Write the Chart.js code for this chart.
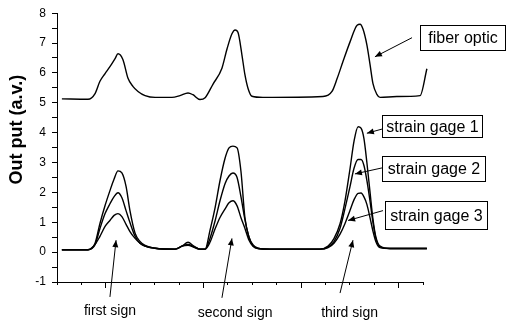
<!DOCTYPE html>
<html><head><meta charset="utf-8">
<style>html,body{margin:0;padding:0;background:#fff;}#wrap{width:508px;height:324px;}</style>
<script src="https://cdn.jsdelivr.net/npm/chart.js@4.4.1/dist/chart.umd.min.js"></script>
</head><body><div id="wrap"><canvas id="c" width="508" height="324"></canvas></div>
<script>
// ---- data ----
const fiberX = [0.2,1.27,1.56,1.76,1.97,2.17,2.38,2.5,2.7,2.91,3.11,3.32,3.61,4.02,4.71,5.04,5.37,5.57,5.86,6.07,6.39,6.76,6.97,7.17,7.3,7.42,7.58,7.7,7.83,7.99,8.44,10.9,11.27,11.48,11.72,12.01,12.3,12.42,12.54,12.7,12.83,12.95,13.11,13.24,13.93,14.88,15.16];
const fiberOptic = [5.13,5.12,5.31,5.72,5.98,6.21,6.48,6.64,6.45,5.82,5.55,5.38,5.24,5.18,5.18,5.24,5.33,5.27,5.11,5.17,5.62,6.16,6.81,7.31,7.44,7.35,6.6,5.95,5.48,5.22,5.18,5.21,5.38,5.81,6.38,7.04,7.6,7.63,7.47,6.94,6.28,5.64,5.28,5.18,5.21,5.24,6.14];

const gageX = [0.2,1.27,1.56,1.76,1.97,2.17,2.34,2.5,2.66,2.83,2.99,3.2,3.4,3.61,4.02,4.84,5.12,5.37,5.61,5.86,6.07,6.27,6.48,6.68,6.89,7.05,7.21,7.38,7.54,7.7,7.87,8.03,8.24,8.73,10.78,11.11,11.35,11.6,11.8,12.01,12.17,12.34,12.46,12.58,12.7,12.83,12.95,13.07,13.24,13.65,15.16];
const strainGage1 = [0.08,0.08,0.3,0.96,1.56,2.06,2.45,2.72,2.65,2.2,1.39,0.63,0.36,0.23,0.13,0.1,0.2,0.33,0.2,0.1,0.1,0.73,1.49,2.39,3.15,3.49,3.55,3.49,2.7,1.16,0.5,0.25,0.13,0.1,0.1,0.2,0.45,0.95,1.7,2.8,3.7,4.2,4.15,3.8,3.0,2.0,1.1,0.5,0.2,0.12,0.12];
const strainGage2 = [0.08,0.08,0.25,0.79,1.29,1.62,1.86,1.99,1.82,1.39,0.99,0.53,0.3,0.2,0.13,0.1,0.2,0.26,0.18,0.1,0.1,0.46,1.05,1.72,2.3,2.55,2.65,2.5,1.85,1.1,0.5,0.22,0.12,0.1,0.1,0.17,0.35,0.8,1.45,2.2,2.8,3.1,3.1,2.9,2.4,1.7,1.0,0.45,0.18,0.12,0.12];
const strainGage3 = [0.08,0.08,0.26,0.53,0.86,1.06,1.23,1.29,1.19,0.93,0.69,0.46,0.3,0.2,0.13,0.1,0.2,0.23,0.16,0.1,0.1,0.33,0.78,1.16,1.45,1.65,1.72,1.55,1.15,0.8,0.4,0.2,0.12,0.1,0.1,0.15,0.3,0.6,0.95,1.4,1.75,1.97,1.98,1.85,1.6,1.15,0.7,0.35,0.15,0.12,0.12];

const yTickValues = [-1,0,1,2,3,4,5,6,7,8];
const xMinorTicks = [0,1,2,3,4,5,6,7,8,9,10,11,12,13,14,15];
const xMajorTicks = [2,6,10,14];
const yTitle = 'Out put (a.v.)';
const seriesNames = ['fiber optic','strain gage 1','strain gage 2','strain gage 3'];
const signNames = ['first sign','second sign','third sign'];

// ---- annotation layout (data coordinates) ----
const boxSpots = [
  {x0:14.88,x1:18.36,y0:7.60,y1:6.78},
  {x0:13.32,x1:17.42,y0:4.58,y1:3.85},
  {x0:13.32,x1:17.54,y0:3.22,y1:2.39},
  {x0:13.44,x1:17.62,y0:1.72,y1:0.79}
];
const boxArrows = [
  [14.55,7.18,13.03,6.54],
  [13.32,4.12,12.70,3.98],
  [13.32,2.82,12.21,2.62],
  [13.36,1.39,11.93,1.06]
];
const signArrows = [
  [2.17,-1.5,2.42,0.4],
  [6.76,-1.53,7.17,0.46],
  [11.6,-1.37,12.13,0.4]
];
const signSpots = [[2.17,-1.96],[7.30,-2.03],[11.99,-2.03]];

const pts = (xs, ys) => xs.map((x,i)=>({x:x, y:ys[i]}));

function arrow(ctx,x1,y1,x2,y2){
  ctx.beginPath(); ctx.moveTo(x1,y1); ctx.lineTo(x2,y2); ctx.stroke();
  const a = Math.atan2(y2-y1,x2-x1), L=7, W=3;
  ctx.beginPath();
  ctx.moveTo(x2,y2);
  ctx.lineTo(x2-L*Math.cos(a)+W*Math.sin(a), y2-L*Math.sin(a)-W*Math.cos(a));
  ctx.lineTo(x2-L*Math.cos(a)-W*Math.sin(a), y2-L*Math.sin(a)+W*Math.cos(a));
  ctx.closePath(); ctx.fill();
}

const annotPlugin = {
  id:'annot',
  afterDraw(chart){
    const ctx = chart.ctx, sx = chart.scales.x, sy = chart.scales.y;
    const px = v => sx.getPixelForValue(v), py = v => sy.getPixelForValue(v);
    ctx.save();
    ctx.strokeStyle = '#000'; ctx.fillStyle = '#000'; ctx.lineWidth = 1;
    boxSpots.forEach((b,i)=>{
      const x0=Math.round(px(b.x0))+0.5, x1=Math.round(px(b.x1))+0.5, y0=Math.round(py(b.y0))+0.5, y1=Math.round(py(b.y1))+0.5;
      ctx.fillStyle='#fff'; ctx.fillRect(x0,y0,x1-x0,y1-y0);
      ctx.strokeRect(x0,y0,x1-x0,y1-y0);
      ctx.fillStyle='#000';
      ctx.font = '16px "Liberation Sans", Arial, sans-serif';
      ctx.textAlign='center'; ctx.textBaseline='middle';
      ctx.fillText(seriesNames[i], (x0+x1)/2, (y0+y1)/2+1);
    });
    boxArrows.forEach(a=>arrow(ctx,px(a[0]),py(a[1]),px(a[2]),py(a[3])));
    signArrows.forEach(a=>arrow(ctx,px(a[0]),py(a[1]),px(a[2]),py(a[3])));
    ctx.font = '14px "Liberation Sans", Arial, sans-serif';
    ctx.textAlign='center'; ctx.textBaseline='middle';
    signSpots.forEach((s,i)=>ctx.fillText(signNames[i], px(s[0]), py(s[1])));
    ctx.translate(17, py(4.1));
    ctx.rotate(-Math.PI/2);
    ctx.font = 'bold 18px "Liberation Sans", Arial, sans-serif';
    ctx.fillText(yTitle, 0, 0);
    ctx.restore();
  }
};

const lineStyle = {borderColor:'#000', borderWidth:1.4, pointRadius:0, fill:false, clip:false, cubicInterpolationMode:'monotone'};

new Chart(document.getElementById('c'), {
  type:'line',
  data:{datasets:[
    Object.assign({label:seriesNames[0], data:pts(fiberX,fiberOptic)}, lineStyle),
    Object.assign({label:seriesNames[1], data:pts(gageX,strainGage1)}, lineStyle),
    Object.assign({label:seriesNames[2], data:pts(gageX,strainGage2)}, lineStyle),
    Object.assign({label:seriesNames[3], data:pts(gageX,strainGage3)}, lineStyle)
  ]},
  options:{
    responsive:false, animation:false, devicePixelRatio:1,
    layout:{padding:{top:11,right:85,left:0,bottom:0}},
    plugins:{legend:{display:false}, tooltip:{enabled:false}, title:{display:false}},
    scales:{
      x:{type:'linear', axis:'x', position:'bottom', weight:0, min:0, max:15,
        afterBuildTicks: s => { s.ticks = xMinorTicks.map(v=>({value:v})); },
        ticks:{display:false, autoSkip:false},
        grid:{drawOnChartArea:false, drawTicks:true, tickLength:3, color:'#000', lineWidth:1},
        border:{display:true, color:'#000', width:1},
        afterFit: s => { s.height = 0; }
      },
      xMajor:{type:'linear', axis:'x', position:'bottom', weight:1, min:0, max:15,
        afterBuildTicks: s => { s.ticks = xMajorTicks.map(v=>({value:v})); },
        ticks:{display:false, autoSkip:false},
        grid:{drawOnChartArea:false, drawTicks:true, tickLength:6, color:'#000', lineWidth:1},
        border:{display:false},
        afterFit: s => { s.height = 42; }
      },
      y:{type:'linear', position:'left', min:-1, max:8,
        afterBuildTicks: s => {
          const t = [];
          yTickValues.forEach((v,i)=>{ t.push({value:v}); if (i < yTickValues.length-1) t.push({value:(v+yTickValues[i+1])/2}); });
          s.ticks = t;
        },
        ticks:{autoSkip:false, color:'#000', padding:6, font:{family:'"Liberation Sans", Arial, sans-serif', size:12},
          callback: v => Number.isInteger(v) ? String(v) : ''},
        grid:{drawOnChartArea:false, drawTicks:true, tickLength:5, color:'#000', lineWidth:1},
        border:{display:true, color:'#000', width:1},
        afterFit: s => { s.width = 57; }
      }
    }
  },
  plugins:[annotPlugin]
});
</script></body></html>
